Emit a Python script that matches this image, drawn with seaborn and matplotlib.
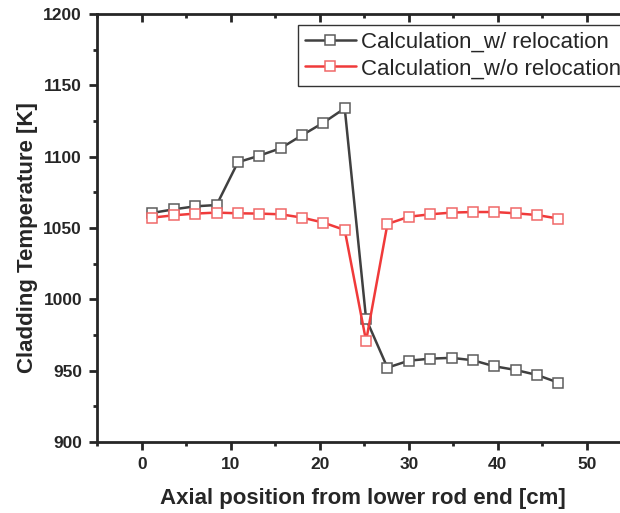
import matplotlib
matplotlib.use('Agg')

import pandas as pd
import matplotlib.pyplot as plt
import seaborn as sns
from matplotlib.ticker import MultipleLocator, FixedLocator

# Axial positions [cm] and cladding temperatures [K]
position = [1.2, 3.6, 6.0, 8.4, 10.8, 13.2, 15.6, 18.0, 20.4, 22.8,
            25.2, 27.6, 30.0, 32.4, 34.8, 37.2, 39.6, 42.0, 44.4, 46.8]
temp_with_reloc = [1060.6, 1063.1, 1065.2, 1066.1, 1096.1, 1100.7, 1105.9, 1115.0, 1123.8, 1133.9,
                   986.3, 952.1, 957.0, 958.4, 959.0, 957.3, 953.1, 950.5, 947.0, 941.6]
temp_without_reloc = [1057.3, 1058.9, 1060.1, 1060.8, 1060.3, 1060.1, 1059.6, 1057.3, 1053.8, 1048.6,
                      970.8, 1052.8, 1057.9, 1059.6, 1060.8, 1061.2, 1061.2, 1060.3, 1059.1, 1056.6]
series_names = ['Calculation_w/ relocation', 'Calculation_w/o relocation']
major_x = [0, 10, 20, 30, 40, 50]
minor_x = [-5, 5, 15, 25, 35, 45]

sns.set_style('ticks')
plt.rcParams['font.family'] = ['Liberation Sans', 'DejaVu Sans']
plt.rcParams['font.weight'] = 'bold'

df = pd.DataFrame({
    'x': position * 2,
    'T': temp_with_reloc + temp_without_reloc,
    'series': [series_names[0]] * len(position) + [series_names[1]] * len(position),
})

fig = plt.figure(figsize=(6.2, 5.13), dpi=100)
# axes runs off the right edge of the canvas, like the cropped original
ax = fig.add_axes([97.3 / 620, 1 - 442 / 513, 551.8 / 620, 428 / 513])

line_colors = ['#404040', '#f03a3a']
edge_colors = ['#5c5c5c', '#f06868']
for name, lc, ec in zip(series_names, line_colors, edge_colors):
    sub = df[df['series'] == name]
    sns.lineplot(data=sub, x='x', y='T', ax=ax, color=lc, linewidth=1.8,
                 marker='s', markersize=6.5, markerfacecolor='white',
                 markeredgecolor=ec, markeredgewidth=1.1, label=name, sort=False)

ax.set_xlim(-5, 57)
ax.set_ylim(900, 1200)
ax.xaxis.set_major_locator(FixedLocator(major_x))
ax.xaxis.set_minor_locator(FixedLocator(minor_x))
ax.yaxis.set_major_locator(MultipleLocator(50))
ax.yaxis.set_minor_locator(MultipleLocator(25))

for side in ['left', 'bottom', 'top']:
    ax.spines[side].set_linewidth(2.0)
ax.spines['right'].set_visible(False)

ax.tick_params(axis='both', which='major', direction='out', length=5.5, width=2.0,
               labelsize=12.5, pad=5.5)
ax.tick_params(axis='both', which='minor', direction='out', length=3, width=2.0)
ax.tick_params(axis='x', which='both', top=False)

# inward ticks along the top edge
top = ax.secondary_xaxis('top')
top.xaxis.set_major_locator(FixedLocator(major_x))
top.xaxis.set_minor_locator(FixedLocator(minor_x))
top.tick_params(which='major', direction='in', length=5.5, width=2.0, labeltop=False)
top.tick_params(which='minor', direction='in', length=3, width=2.0)
top.spines['top'].set_visible(False)

ax.set_xlabel('Axial position from lower rod end [cm]', fontsize=16, fontweight='bold')
ax.set_ylabel('Cladding Temperature [K]', fontsize=16, fontweight='bold')
ax.xaxis.label.set_va('center')
ax.yaxis.label.set_va('center')
ax.xaxis.set_label_coords(0.482, -0.131)
ax.yaxis.set_label_coords(-0.127, 0.477)

leg = ax.legend(loc='upper left', bbox_to_anchor=(298 / 620, 1 - 25 / 513),
                bbox_transform=fig.transFigure,
                prop={'size': 16, 'weight': 'normal'}, frameon=True,
                fancybox=False, borderpad=0.3, labelspacing=0.25,
                handlelength=2.3, handletextpad=0.25, borderaxespad=0)
leg.get_frame().set_edgecolor('#333333')
leg.get_frame().set_linewidth(1.0)
leg.get_frame().set_alpha(1)

fig.savefig('out.png', dpi=100)
plt.close(fig)
